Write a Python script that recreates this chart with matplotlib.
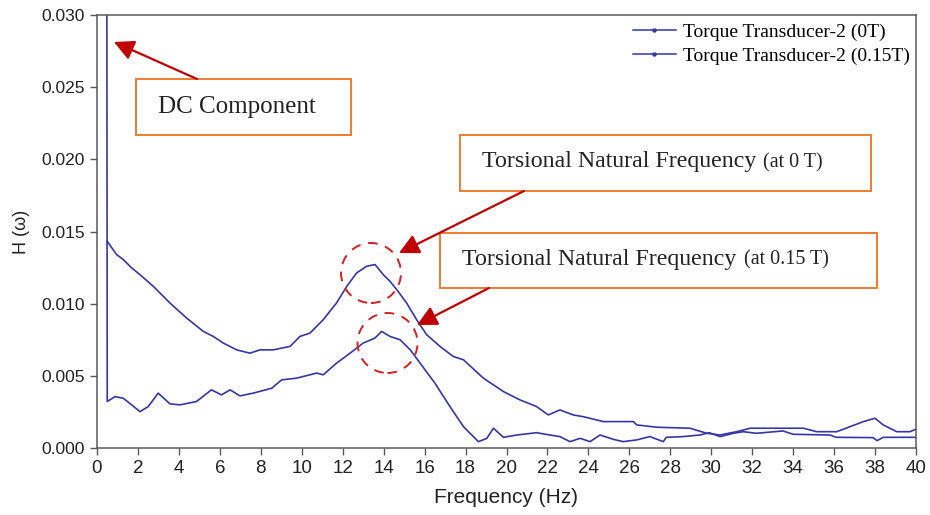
import matplotlib
matplotlib.use("Agg")
import matplotlib.pyplot as plt
from matplotlib.lines import Line2D
from matplotlib.patches import Rectangle, Ellipse, FancyArrowPatch

# ---------------- data ----------------
freq_0T = [0.5, 0.72, 0.96, 1.28, 1.69, 2.1, 2.75, 3.56, 4.38, 5.19, 5.68, 6.17, 6.82, 7.47,
           7.96, 8.61, 9.43, 9.91, 10.4, 11.05, 11.7, 12.2, 12.68, 13.17, 13.58, 13.98, 14.31,
           14.64, 15.12, 15.61, 16.1, 16.75, 17.4, 17.9, 18.87, 19.85, 20.66, 21.47, 22.04,
           22.61, 23.26, 23.75, 24.73, 26.2, 26.36, 27.33, 28.96, 29.78, 30.43, 31.24, 31.9,
           33.2, 34.5, 35.15, 36.13, 36.78, 37.43, 38.0, 38.4, 39.06, 39.7, 40.0]
h_0T = [0.01433, 0.01387, 0.0134, 0.01306, 0.01248, 0.01201, 0.0112, 0.01005, 0.009, 0.00808,
        0.00773, 0.00727, 0.0068, 0.00657, 0.0068, 0.0068, 0.00704, 0.00773, 0.00796, 0.00889,
        0.01005, 0.0112, 0.01213, 0.01259, 0.01271, 0.01201, 0.01155, 0.01097, 0.01005, 0.00889,
        0.00785, 0.00704, 0.00634, 0.00611, 0.00484, 0.00391, 0.00333, 0.00287, 0.00229, 0.00264,
        0.00229, 0.00217, 0.00183, 0.00183, 0.0016, 0.00144, 0.00137, 0.00102, 0.0009, 0.00113,
        0.00137, 0.00137, 0.00137, 0.00113, 0.00113, 0.00148, 0.00183, 0.00206, 0.0016, 0.00113,
        0.00113, 0.0013]

freq_015T = [0.47, 0.5, 0.88, 1.28, 1.69, 2.1, 2.5, 2.99, 3.56, 4.05, 4.86, 5.59, 6.08, 6.5,
             6.98, 7.63, 8.53, 9.02, 9.75, 10.73, 11.05, 11.7, 12.36, 13.0, 13.58, 13.9, 14.31,
             14.8, 15.3, 15.78, 16.5, 17.24, 17.57, 17.9, 18.22, 18.63, 19.04, 19.36, 19.85,
             20.5, 21.47, 22.12, 22.61, 23.1, 23.6, 24.08, 24.57, 25.22, 25.7, 26.36, 27.0,
             27.66, 27.8, 28.63, 29.45, 29.9, 30.43, 31.08, 31.57, 32.2, 33.5, 34.0, 35.8, 36.1,
             37.9, 38.1, 38.4, 40.0]
h_015T = [0.05, 0.00322, 0.00356, 0.00345, 0.00299, 0.00252, 0.00287, 0.0038, 0.00306, 0.00299,
          0.00322, 0.00403, 0.00368, 0.00403, 0.00361, 0.0038, 0.00414, 0.00472, 0.00484,
          0.00519, 0.00507, 0.00588, 0.00657, 0.00727, 0.00762, 0.00808, 0.00773, 0.0075,
          0.0068, 0.00588, 0.0045, 0.00287, 0.00217, 0.00148, 0.00102, 0.00044, 0.00067,
          0.00137, 0.00074, 0.0009, 0.00106, 0.0009, 0.00079, 0.00044, 0.00067, 0.00044,
          0.0009, 0.0006, 0.00044, 0.00056, 0.00079, 0.00044, 0.00074, 0.00079, 0.0009,
          0.00106, 0.00079, 0.00102, 0.00113, 0.00102, 0.00118, 0.00095, 0.0009, 0.00074,
          0.00072, 0.00051, 0.00074, 0.00074]

series_labels = ["Torque Transducer-2 (0T)", "Torque Transducer-2 (0.15T)"]
x_ticks = list(range(0, 41, 2))
y_ticks = [0.000, 0.005, 0.010, 0.015, 0.020, 0.025, 0.030]

# ---------------- figure ----------------
W, H = 930, 515
fig = plt.figure(figsize=(W / 100, H / 100), dpi=100)
ax = fig.add_axes([97 / W, 1 - 448 / H, (916 - 97) / W, (448 - 15) / H])

line_color = "#3636a6"
ax.plot(freq_0T, h_0T, color=line_color, lw=1.2)
ax.plot(freq_015T, h_015T, color=line_color, lw=1.2)

ax.set_xlim(0, 40)
ax.set_ylim(0, 0.030)
ax.set_xticks(x_ticks)
ax.set_xticklabels([str(v) for v in x_ticks])
ax.set_yticks(y_ticks)
ax.set_yticklabels([f"{v:.3f}" for v in y_ticks])

spine_c = "#5a5a5a"
for s in ax.spines.values():
    s.set_color(spine_c)
    s.set_linewidth(1.1)
ax.tick_params(axis="both", direction="out", length=5, width=1.0, color=spine_c,
               labelcolor="#222222")
for lab in ax.get_xticklabels():
    lab.set_fontfamily("Liberation Sans")
    lab.set_fontsize(13.5)
for lab in ax.get_yticklabels():
    lab.set_fontfamily("Liberation Sans")
    lab.set_fontsize(12.5)

ax.set_xlabel("Frequency (Hz)", fontfamily="Liberation Sans", fontsize=15, color="#222222",
              labelpad=8)
ax.set_ylabel("H (\u03c9)", fontfamily="Liberation Sans", fontsize=13, color="#222222",
              labelpad=8)

# legend
handles = [Line2D([], [], color=line_color, lw=1.1, marker="o", markersize=2.2)
           for _ in series_labels]
fig.legend(handles, series_labels, loc="upper left",
           bbox_to_anchor=(633 / W, 1 - 23 / H), frameon=False,
           prop={"family": "Liberation Serif", "size": 14}, handlelength=2.2,
           handletextpad=0.35, labelspacing=0.36, borderpad=0, borderaxespad=0)


# ---------------- annotations (figure pixel space) ----------------
def fx(x):
    return x / W


def fy(y):
    return 1 - y / H


box_c = "#ED7D31"
red = "#C00000"
txt_c = "#222222"


def box(x0, y0, x1, y1):
    fig.add_artist(Rectangle((fx(x0), fy(y1)), fx(x1) - fx(x0), fy(y0) - fy(y1),
                             transform=fig.transFigure, facecolor="white",
                             edgecolor=box_c, lw=1.4, zorder=5))


def arrow(tail, tip):
    fig.add_artist(FancyArrowPatch(
        (fx(tail[0]), fy(tail[1])), (fx(tip[0]), fy(tip[1])),
        transform=fig.transFigure,
        arrowstyle="-|>,head_length=0.75,head_width=0.38", mutation_scale=16,
        color=red, lw=1.6, shrinkA=0, shrinkB=0, zorder=6))


# DC Component
arrow((197, 79), (114, 42))
box(136, 79, 351, 135)
fig.text(fx(158), fy(107), "DC Component", family="Liberation Serif", fontsize=18,
         color=txt_c, va="center", ha="left", zorder=7)

# circles
for cx, cy in [(371, 273), (387.5, 343)]:
    fig.add_artist(Ellipse((fx(cx), fy(cy)), 60 / W, 60 / H, transform=fig.transFigure,
                           fill=False, edgecolor="#D42020", lw=1.4,
                           linestyle=(0, (5, 4)), zorder=6))

# arrows for torsional frequencies
arrow((524, 191), (399, 253))
arrow((489, 288), (417, 325))

# box 1
box(460, 135, 871, 191)
fig.text(fx(482), fy(162), "Torsional Natural Frequency", family="Liberation Serif",
         fontsize=17.2, color=txt_c, va="center", ha="left", zorder=7)
fig.text(fx(763), fy(163), "(at 0 T)", family="Liberation Serif",
         fontsize=14.5, color=txt_c, va="center", ha="left", zorder=7)

# box 2
box(440, 233, 877, 288)
fig.text(fx(462), fy(259), "Torsional Natural Frequency", family="Liberation Serif",
         fontsize=17.2, color=txt_c, va="center", ha="left", zorder=7)
fig.text(fx(744), fy(260), "(at 0.15 T)", family="Liberation Serif",
         fontsize=14.5, color=txt_c, va="center", ha="left", zorder=7)

fig.savefig("out.png", dpi=100)
